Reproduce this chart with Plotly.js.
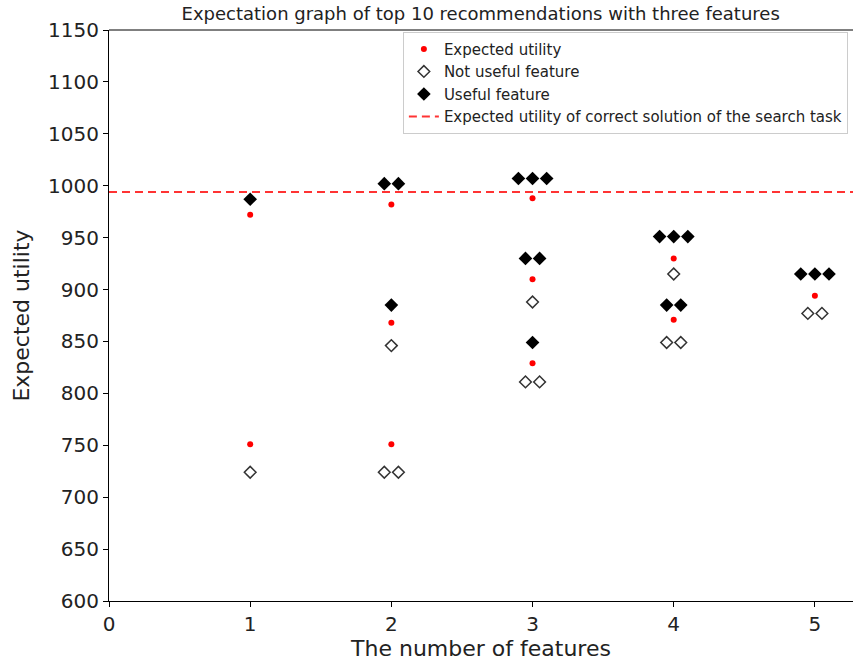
<!DOCTYPE html>
<html>
<head>
<meta charset="utf-8">
<script src="https://cdn.plot.ly/plotly-3.0.1.min.js"></script>
<style>html,body{margin:0;padding:0;background:#fff;}#chart{width:853px;height:662px;}</style>
</head>
<body>
<div id="chart"></div>
<script>
// Expected utility (red dots)
const expectedX = [1, 1, 2, 2, 2, 3, 3, 3, 4, 4, 5];
const expectedY = [972, 751, 982, 868, 751, 988, 910, 829, 930, 871, 894];

// Useful feature (filled diamonds)
const usefulX = [1, 1.95, 2.05, 2, 2.9, 3, 3.1, 2.95, 3.05, 3, 3.9, 4, 4.1, 3.95, 4.05, 4.9, 5, 5.1];
const usefulY = [987, 1002, 1002, 885, 1007, 1007, 1007, 930, 930, 849, 951, 951, 951, 885, 885, 915, 915, 915];

// Not useful feature (hollow diamonds)
const notUsefulX = [1, 2, 1.95, 2.05, 3, 2.95, 3.05, 4, 3.95, 4.05, 4.95, 5.05];
const notUsefulY = [724, 846, 724, 724, 888, 811, 811, 915, 849, 849, 877, 877];

// Expected utility of correct solution
const correctX = [0, 5.27];
const correctY = [994, 994];

const xRange = [0, 5.27];
const yRange = [600, 1150];
const xTicks = [0, 1, 2, 3, 4, 5];
const yTicks = [600, 650, 700, 750, 800, 850, 900, 950, 1000, 1050, 1100, 1150];

const font = 'DejaVu Sans, sans-serif';

const traces = [
  {x: expectedX, y: expectedY, type: 'scatter', mode: 'markers', name: 'Expected utility',
   marker: {color: '#ff0000', size: 6, symbol: 'circle'}},
  {x: notUsefulX, y: notUsefulY, type: 'scatter', mode: 'markers', name: 'Not useful feature',
   marker: {color: '#ffffff', size: 9, symbol: 'diamond', line: {color: '#333333', width: 1.5}}},
  {x: usefulX, y: usefulY, type: 'scatter', mode: 'markers', name: 'Useful feature',
   marker: {color: '#000000', size: 10.5, symbol: 'diamond'}},
  {x: correctX, y: correctY, type: 'scatter', mode: 'lines', name: 'Expected utility of correct solution of the search task',
   line: {color: 'rgba(255,0,0,0.8)', width: 2, dash: '8px,5px'}}
];

const layout = {
  width: 853, height: 662,
  margin: {l: 109, r: 0, t: 30, b: 61},
  paper_bgcolor: '#ffffff', plot_bgcolor: '#ffffff',
  font: {family: font, color: '#000'},
  title: {text: 'Expectation graph of top 10 recommendations with three features',
          font: {family: font, size: 18, color: '#222'}, x: 0.5635, xanchor: 'center', y: 0.98, yanchor: 'middle'},
  xaxis: {range: xRange, tickvals: xTicks, ticktext: xTicks.map(String), showgrid: false, zeroline: false,
          showline: true, linecolor: '#000', linewidth: 1, ticks: 'outside', ticklen: 5, tickcolor: '#000',
          tickfont: {family: font, size: 20, color: '#222'}, title: {text: 'The number of features', font: {family: font, size: 22, color: '#222'}, standoff: 5}},
  yaxis: {range: yRange, tickvals: yTicks, ticktext: yTicks.map(String), showgrid: false, zeroline: false,
          showline: true, linecolor: '#000', linewidth: 1, ticks: 'outside', ticklen: 5, tickcolor: '#000',
          tickfont: {family: font, size: 20, color: '#222'}, title: {text: 'Expected utility', font: {family: font, size: 22, color: '#222'}, standoff: 12}},
  legend: {x: 0.395, y: 0.997, xanchor: 'left', yanchor: 'top', bgcolor: '#ffffff', bordercolor: '#cccccc', borderwidth: 1,
           font: {family: font, size: 15, color: '#222'}, tracegroupgap: 0, itemwidth: 30},
  shapes: [{type: 'line', xref: 'paper', yref: 'paper', x0: 0, x1: 1, y0: 1, y1: 1, line: {color: '#000', width: 1}}],
  showlegend: true
};

Plotly.newPlot('chart', traces, layout, {displayModeBar: false, staticPlot: true});
</script>
</body>
</html>
